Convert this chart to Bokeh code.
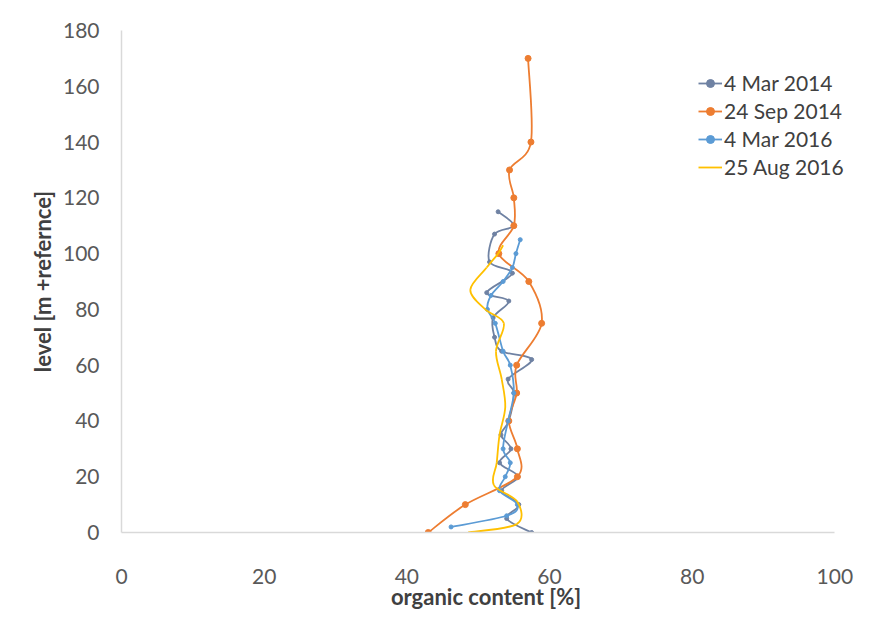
from bokeh.plotting import figure
from bokeh.models import Range1d, Legend, LegendItem, ColumnDataSource
from bokeh.embed import file_html
from bokeh.resources import INLINE
import numpy as np

# ---------------- data ----------------
series_names = ["4 Mar 2014", "24 Sep 2014", "4 Mar 2016", "25 Aug 2016"]

level_mar14 = [0, 5, 10, 15, 20, 25, 30, 35, 40, 50, 55, 62, 65, 70, 77, 83, 86, 93, 97, 107, 110, 115]
oc_mar14 = [57.5, 54.0, 55.7, 53.3, 55.6, 53.0, 54.6, 53.2, 54.3, 55.0, 54.2, 57.5, 53.3, 52.3, 52.1, 54.3, 51.2, 54.8, 51.6, 52.3, 55.0, 52.8]

level_sep14 = [0, 10, 20, 30, 40, 50, 60, 75, 90, 100, 110, 120, 130, 140, 170]
oc_sep14 = [43.0, 48.2, 55.5, 55.5, 54.3, 55.4, 55.4, 58.9, 57.1, 52.9, 55.0, 55.0, 54.4, 57.4, 57.0]

level_mar16 = [2, 6, 10, 15, 20, 25, 30, 40, 50, 60, 65, 75, 80, 85, 90, 95, 100, 105]
oc_mar16 = [46.2, 54.0, 55.5, 53.0, 53.8, 54.5, 53.5, 54.2, 55.0, 54.5, 53.5, 52.4, 51.3, 51.8, 53.5, 54.8, 55.3, 55.9]

level_aug16 = [0, 3, 11, 17, 25, 35, 45, 55, 65, 75, 80, 87, 95, 100, 103]
oc_aug16 = [48.6, 55.4, 55.5, 52.2, 52.6, 53.0, 53.8, 53.3, 52.5, 53.6, 51.0, 48.9, 51.2, 52.8, 53.5]

x_ticks = [0, 20, 40, 60, 80, 100]
y_ticks = [0, 20, 40, 60, 80, 100, 120, 140, 160, 180]

x_title = "organic content [%]"
y_title = "level [m +refernce]"

colors = ["#6F82A3", "#ED7D31", "#5B9BD5", "#FFC000"]
marker_sizes = [4, 6, 4, 0]

FONT = "Lato"

# frame extends a little past 100 so the legend text is not clipped;
# the x axis line itself stops at 100 (axis bounds)
p = figure(width=878, height=625, output_backend="svg", toolbar_location=None,
           x_range=Range1d(0, 102.2), y_range=Range1d(0, 180),
           min_border_left=121, min_border_right=28, min_border_top=30, min_border_bottom=93)
p.outline_line_color = None
p.xgrid.grid_line_color = None
p.ygrid.grid_line_color = None

for ax in (p.xaxis[0], p.yaxis[0]):
    ax.axis_line_color = "#D9D9D9"
    ax.axis_line_width = 1.5
    ax.major_tick_line_color = None
    ax.minor_tick_line_color = None
    ax.major_label_text_font = FONT
    ax.major_label_text_font_size = "21px"
    ax.major_label_text_color = "#595959"
    ax.axis_label_text_font = FONT
    ax.axis_label_text_font_size = "22px"
    ax.axis_label_text_font_style = "bold"
    ax.axis_label_text_color = "#404040"

p.xaxis.ticker = x_ticks
p.xaxis.bounds = (x_ticks[0], x_ticks[-1])
p.yaxis.ticker = y_ticks
p.xaxis.major_label_standoff = 30
p.yaxis.major_label_standoff = 16
p.xaxis.axis_label = x_title
p.xaxis.axis_label_standoff = -4
p.yaxis.axis_label = y_title
p.yaxis.axis_label_standoff = 4


def smooth_segments(xs, ys):
    """Bezier control points (Catmull-Rom style, like spreadsheet smoothed lines)."""
    xs = np.asarray(xs, float)
    ys = np.asarray(ys, float)
    n = len(xs)
    xp = np.concatenate([[xs[0]], xs, [xs[-1]]])
    yp = np.concatenate([[ys[0]], ys, [ys[-1]]])
    i = np.arange(1, n)
    return dict(
        x0=xp[i], y0=yp[i], x1=xp[i + 1], y1=yp[i + 1],
        cx0=xp[i] + (xp[i + 1] - xp[i - 1]) / 6.0,
        cy0=yp[i] + (yp[i + 1] - yp[i - 1]) / 6.0,
        cx1=xp[i + 1] - (xp[i + 2] - xp[i]) / 6.0,
        cy1=yp[i + 1] - (yp[i + 2] - yp[i]) / 6.0,
    )


all_series = [(oc_mar14, level_mar14), (oc_sep14, level_sep14),
              (oc_mar16, level_mar16), (oc_aug16, level_aug16)]

items = []
for (xs, ys), name, col, ms in zip(all_series, series_names, colors, marker_sizes):
    seg = ColumnDataSource(smooth_segments(xs, ys))
    p.bezier(x0="x0", y0="y0", x1="x1", y1="y1", cx0="cx0", cy0="cy0",
             cx1="cx1", cy1="cy1", source=seg, line_color=col, line_width=1.8)
    leg_line = p.line(np.array([np.nan]), np.array([np.nan]), line_color=col, line_width=1.8)
    rends = [leg_line]
    if ms > 0:
        sc = p.scatter(xs, ys, size=ms, fill_color=col, line_color=col)
        rends.append(sc)
    items.append(LegendItem(label=name, renderers=rends))

legend = Legend(items=items, location=(577, 353), orientation="vertical",
                label_text_font=FONT, label_text_font_size="21px",
                label_text_color="#404040", glyph_width=24, glyph_height=20,
                spacing=3, padding=4, label_standoff=2,
                border_line_color=None, background_fill_alpha=0)
p.add_layout(legend, "center")

open("out.html", "w").write(file_html(p, INLINE))
